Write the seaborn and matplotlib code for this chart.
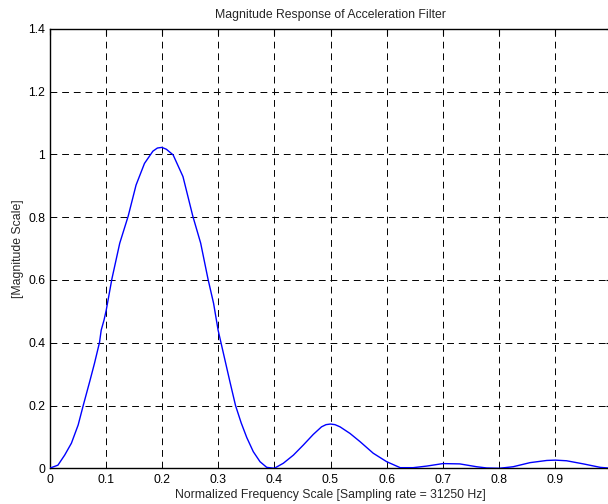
import matplotlib
matplotlib.use("Agg")
import matplotlib.pyplot as plt
import seaborn as sns
import pandas as pd

# Magnitude response samples (normalized frequency, magnitude)
freq = [0.0, 0.015, 0.027, 0.039, 0.051, 0.060, 0.0715, 0.080, 0.089, 0.092,
        0.097, 0.101, 0.111, 0.125, 0.140, 0.154, 0.169, 0.184, 0.192, 0.200,
        0.208, 0.220, 0.2375, 0.255, 0.269, 0.282, 0.292, 0.300, 0.305, 0.321,
        0.331, 0.341, 0.351, 0.3626, 0.3746, 0.3865, 0.400, 0.416, 0.434, 0.4516,
        0.4694, 0.484, 0.492, 0.500, 0.508, 0.517, 0.5347, 0.5525, 0.576, 0.600,
        0.624, 0.647, 0.671, 0.700, 0.730, 0.760, 0.778, 0.800, 0.825, 0.855,
        0.885, 0.900, 0.920, 0.950, 0.980, 1.0]
mag = [0.0, 0.010, 0.042, 0.080, 0.138, 0.200, 0.276, 0.334, 0.401, 0.440,
       0.472, 0.504, 0.603, 0.717, 0.803, 0.902, 0.971, 1.010, 1.020, 1.022,
       1.016, 0.998, 0.929, 0.803, 0.717, 0.603, 0.525, 0.440, 0.401, 0.276,
       0.200, 0.145, 0.098, 0.053, 0.021, 0.003, 0.0, 0.016, 0.042, 0.074,
       0.108, 0.132, 0.139, 0.141, 0.139, 0.132, 0.111, 0.085, 0.048, 0.021,
       0.002, 0.002, 0.007, 0.015, 0.014, 0.005, 0.001, 0.0, 0.005, 0.018,
       0.025, 0.026, 0.024, 0.014, 0.003, 0.0]

x_ticks = [0, 0.1, 0.2, 0.3, 0.4, 0.5, 0.6, 0.7, 0.8, 0.9, 1.0]
x_tick_labels = ["0", "0.1", "0.2", "0.3", "0.4", "0.5", "0.6", "0.7", "0.8", "0.9", ""]
y_ticks = [0, 0.2, 0.4, 0.6, 0.8, 1.0, 1.2, 1.4]
y_tick_labels = ["0", "0.2", "0.4", "0.6", "0.8", "1", "1.2", "1.4"]

title = "Magnitude Response of Acceleration Filter"
x_label = "Normalized Frequency Scale [Sampling rate = 31250 Hz]"
y_label = "[Magnitude Scale]"

sns.set_style("white")
plt.rcParams["font.family"] = ["Liberation Sans", "DejaVu Sans"]
FS = 8.8
plt.rcParams["font.size"] = FS

df = pd.DataFrame({"freq": freq, "mag": mag})

fig = plt.figure(figsize=(6.08, 5.04), dpi=100)
ax = fig.add_axes([49.5 / 608, 35.7 / 504, 562 / 608, 439.6 / 504])

sns.lineplot(data=df, x="freq", y="mag", ax=ax, color=(0, 0, 1),
             linewidth=1.0, sort=False, zorder=3)

ax.set_xlim(0, 1)
ax.set_ylim(0, 1.4)
ax.set_xticks(x_ticks)
ax.set_yticks(y_ticks)
ax.set_xticklabels(x_tick_labels)
ax.set_yticklabels(y_tick_labels)

ax.grid(True, color="black", linestyle=(0, (7, 5)), linewidth=0.7)
ax.tick_params(direction="in", length=4, width=0.8, colors="black",
               labelsize=FS, top=True, right=True)
ax.tick_params(axis="x", pad=4)
ax.tick_params(axis="y", pad=3)
for s in ax.spines.values():
    s.set_visible(True)
    s.set_color("black")
    s.set_linewidth(1.0)

ax.set_title(title, fontsize=FS, pad=8)
ax.set_xlabel(x_label, fontsize=FS, labelpad=2)
ax.set_ylabel(y_label, fontsize=FS, labelpad=3)

fig.savefig("out.png", dpi=100)
